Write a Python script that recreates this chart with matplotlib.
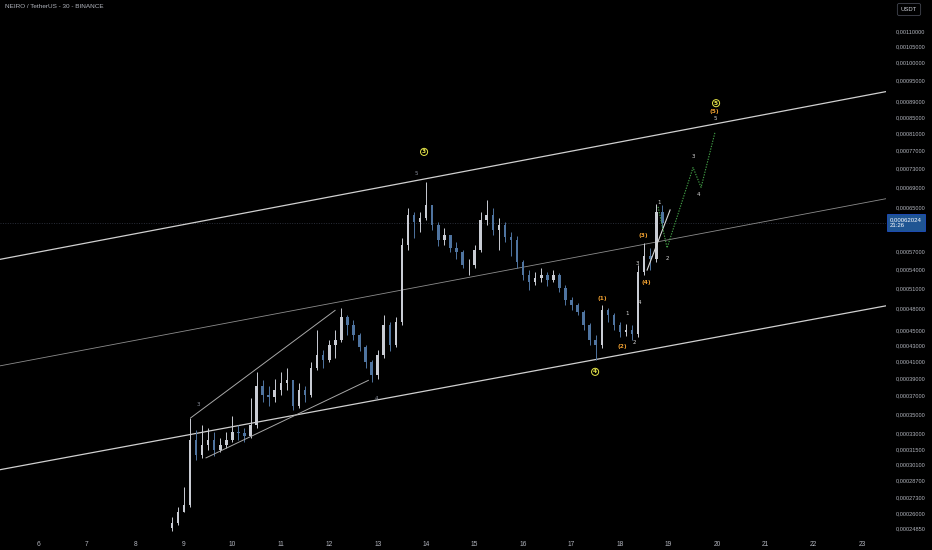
import numpy as np
import matplotlib
matplotlib.use("Agg")
import matplotlib.pyplot as plt
import matplotlib.transforms as mtransforms

UNIT = 1e-5  # prices below are in units of 0.00001 USDT

# ---- candles (3-hour bars) ----
bar_start_day = 8.75
bar_step_day = 0.125
first_open = 24.9
close = [25.3, 26.1, 26.7, 32.4, 31.0, 31.9, 32.4, 31.4, 31.9, 32.4,
         33.2, 33.1, 32.8, 33.9, 38.1, 37.0, 36.8, 37.6, 38.4, 38.7,
         35.9, 37.6, 37.0, 40.1, 41.7, 41.1, 43.0, 43.7, 46.7, 45.7,
         44.3, 42.7, 40.9, 39.3, 41.7, 45.7, 43.0, 46.1, 58.0, 63.4,
         62.1, 62.9, 65.3, 61.5, 58.9, 59.7, 57.5, 56.8, 54.6, 54.6,
         57.1, 62.5, 63.4, 60.6, 61.5, 59.4, 58.9, 55.1, 53.0, 51.9,
         52.5, 53.0, 52.2, 53.0, 51.0, 49.2, 48.5, 47.5, 45.7, 43.7,
         43.0, 47.8, 47.1, 45.6, 44.7, 45.0, 44.5, 53.5, 56.2, 55.7,
         64.0, 62.024]
high = [25.7, 26.5, 28.1, 34.6, 33.4, 33.9, 33.6, 33.2, 32.6, 33.2,
        34.8, 33.9, 33.6, 36.7, 39.7, 38.7, 38.1, 38.9, 39.7, 40.1,
        38.7, 38.4, 38.1, 40.9, 45.0, 42.4, 43.7, 45.0, 48.1, 47.1,
        46.4, 44.6, 43.0, 41.1, 42.4, 47.1, 46.1, 46.7, 59.2, 64.8,
        64.0, 64.0, 70.0, 65.3, 62.1, 61.0, 59.7, 58.5, 57.1, 55.7,
        58.0, 64.0, 66.3, 64.8, 62.9, 62.1, 60.3, 59.6, 55.4, 53.8,
        53.5, 54.1, 53.5, 53.8, 53.4, 51.4, 49.6, 48.8, 47.8, 46.0,
        44.3, 48.5, 48.1, 47.4, 46.1, 45.8, 45.7, 54.6, 58.3, 57.5,
        65.5, 65.3]
low = [24.7, 25.1, 26.1, 26.5, 30.5, 30.7, 31.4, 30.9, 31.2, 31.6,
       32.2, 32.4, 32.2, 32.6, 33.6, 36.3, 35.9, 36.3, 37.0, 37.6,
       35.4, 35.6, 36.3, 36.8, 39.9, 40.1, 40.9, 41.4, 43.4, 44.3,
       43.7, 42.2, 40.1, 38.5, 38.9, 41.4, 42.2, 42.7, 45.7, 57.1,
       59.2, 60.3, 62.5, 60.6, 57.8, 58.0, 56.8, 55.7, 54.1, 53.0,
       54.1, 56.8, 61.5, 59.7, 57.1, 58.5, 56.2, 54.1, 52.2, 50.7,
       51.4, 51.9, 51.3, 51.9, 50.4, 48.5, 47.8, 47.0, 45.0, 43.0,
       41.1, 42.6, 46.1, 45.0, 44.1, 44.2, 43.7, 44.0, 53.0, 53.8,
       55.2, 61.0]
last_price = 62.024
last_time = "21:26"

# ---- drawn lines (day, price) ----
channel_days = [5.1, 23.6]
upper_prices = [55.4, 92.0]
middle_prices = [40.3, 66.8]
lower_prices = [29.55, 48.5]
wedge_up_days = [9.141, 12.120]
wedge_up_prices = [34.6, 47.7]
wedge_lo_days = [9.457, 12.807]
wedge_lo_prices = [30.7, 38.7]
trend_days = [18.559, 19.034]
trend_prices = [53.8, 64.4]
proj_days = [18.786, 18.972, 19.508, 19.674, 19.963]
proj_prices = [65.0, 57.5, 73.1, 68.9, 81.3]

# ---- wave labels (text, day, price) ----
circled_labels = [("3", 13.957, 76.6), ("4", 17.487, 39.7), ("5", 19.983, 88.6)]
orange_labels = [("(1)", 17.631, 49.5), ("(2)", 18.044, 42.8), ("(3)", 18.478, 59.7),
                 ("(4)", 18.540, 51.9), ("(5)", 19.942, 86.5)]
white_labels = [("1", 18.147, 47.2), ("2", 18.292, 43.3), ("3", 18.354, 54.9),
                ("4", 18.395, 48.8), ("1", 18.808, 65.9), ("2", 18.972, 55.7),
                ("3", 19.508, 75.6), ("4", 19.611, 67.5), ("5", 19.963, 84.7)]
gray_labels = [("5", 13.792, 71.9), ("3", 9.292, 36.0), ("4", 12.966, 36.7)]

# ---- axes ----
day_ticks = list(range(6, 24))
price_ticks = [110, 105, 100, 95, 89, 85, 81, 77, 73, 69, 65, 57, 54, 51, 48,
               45, 43, 41, 39, 37, 35, 33, 31.5, 30.1, 28.7, 27.3, 26.0, 24.85]
x_range = [5.205, 23.49]
y_range = [24.38, 120.6]
title = "NEIRO / TetherUS - 30 - BINANCE"
currency = "USDT"

BG = "#000000"
TXT = "#b2b5be"
UP = "#c9ccd4"
DOWN = "#4f74a0"
FONT = ["Liberation Sans", "DejaVu Sans"]

fig = plt.figure(figsize=(9.32, 5.5), dpi=100, facecolor=BG)
ax = fig.add_axes([0.0, 15 / 550, 886 / 932, 535 / 550])
ax.set_facecolor(BG)
ax.set_yscale("log")
ax.set_xlim(*x_range)
ax.set_ylim(y_range[0] * UNIT, y_range[1] * UNIT)
for s in ax.spines.values():
    s.set_visible(False)

c = np.array(close) * UNIT
h = np.array(high) * UNIT
l = np.array(low) * UNIT
o = np.concatenate([[first_open * UNIT], c[:-1]])
t = bar_start_day + bar_step_day * np.arange(len(c))
cols = np.where(c >= o, UP, DOWN)

ax.vlines(t, l, h, colors=cols, lw=0.7, zorder=3)
ax.bar(t, c - o, bottom=o, width=bar_step_day * 0.42, color=cols, lw=0, zorder=3)

# current price line
ax.axhline(last_price * UNIT, color="#2a2e39", lw=0.7, ls=(0, (1, 1.5)), zorder=1)

# channel
ax.plot(channel_days, np.array(upper_prices) * UNIT, color="#d0d0d0", lw=0.9, zorder=2)
ax.plot(channel_days, np.array(middle_prices) * UNIT, color="#8c8c8c", lw=0.6, zorder=2)
ax.plot(channel_days, np.array(lower_prices) * UNIT, color="#d0d0d0", lw=0.9, zorder=2)
ax.plot(wedge_up_days, np.array(wedge_up_prices) * UNIT, color="#a8a8a8", lw=0.7, zorder=4)
ax.plot(wedge_lo_days, np.array(wedge_lo_prices) * UNIT, color="#a8a8a8", lw=0.7, zorder=4)
ax.plot(trend_days, np.array(trend_prices) * UNIT, color="#d8d8d8", lw=0.8, zorder=4)
ax.plot(proj_days, np.array(proj_prices) * UNIT, color="#43a047", lw=0.8,
        ls=(0, (1.2, 1.2)), zorder=4)

for txt, d, p in circled_labels:
    ax.text(d, p * UNIT, txt, color="#e8e84a", fontsize=4.2, ha="center", va="center",
            fontweight="bold", zorder=6,
            bbox=dict(boxstyle="circle,pad=0.18", fc="none", ec="#e8e84a", lw=0.7))
for txt, d, p in orange_labels:
    ax.text(d, p * UNIT, txt, color="#f0a030", fontsize=4.2, ha="center", va="center",
            fontweight="bold", zorder=6)
for txt, d, p in white_labels:
    ax.text(d, p * UNIT, txt, color="#d8d8d8", fontsize=4.0, ha="center", va="center",
            zorder=6)
for txt, d, p in gray_labels:
    ax.text(d, p * UNIT, txt, color="#8a8f9c", fontsize=4.0, ha="center", va="center",
            zorder=6)

# x axis
ax.set_xticks(day_ticks)
ax.set_xticklabels([str(d) for d in day_ticks], family=FONT)
ax.tick_params(axis="x", length=0, pad=4, colors=TXT, labelsize=4.8)

# y axis on right
ax.yaxis.tick_right()
ax.yaxis.set_minor_locator(matplotlib.ticker.NullLocator())
ax.set_yticks([v * UNIT for v in price_ticks])
ax.set_yticklabels([("%.8f" % (v * UNIT)).replace(".", ",") for v in price_ticks],
                   family=FONT)
ax.tick_params(axis="y", length=0, pad=7.0, colors=TXT, labelsize=4.1)

# last price box
trans = mtransforms.blended_transform_factory(ax.transAxes, ax.transData)
ax.text(1.0 + 4 / 886, last_price * UNIT,
        ("%.8f" % (last_price * UNIT)).replace(".", ",") + "\n" + last_time,
        transform=trans, ha="left", va="center", color="white", fontsize=4.3,
        family=FONT, linespacing=1.2, zorder=10, clip_on=False,
        bbox=dict(boxstyle="square,pad=0.45", fc="#1f5593", ec="#2962ff", lw=0.4))

# header
fig.text(5 / 932, 1 - 7 / 550, title, color=TXT, fontsize=4.6, ha="left", va="center",
         family=FONT)
fig.text(909 / 932, 1 - 9.5 / 550, currency, color="#d1d4dc", fontsize=4.2, ha="center",
         va="center", family=FONT,
         bbox=dict(boxstyle="round,pad=0.6,rounding_size=0.3", fc=BG, ec="#434651", lw=0.6))

fig.savefig("out.png", dpi=100, facecolor=BG)
